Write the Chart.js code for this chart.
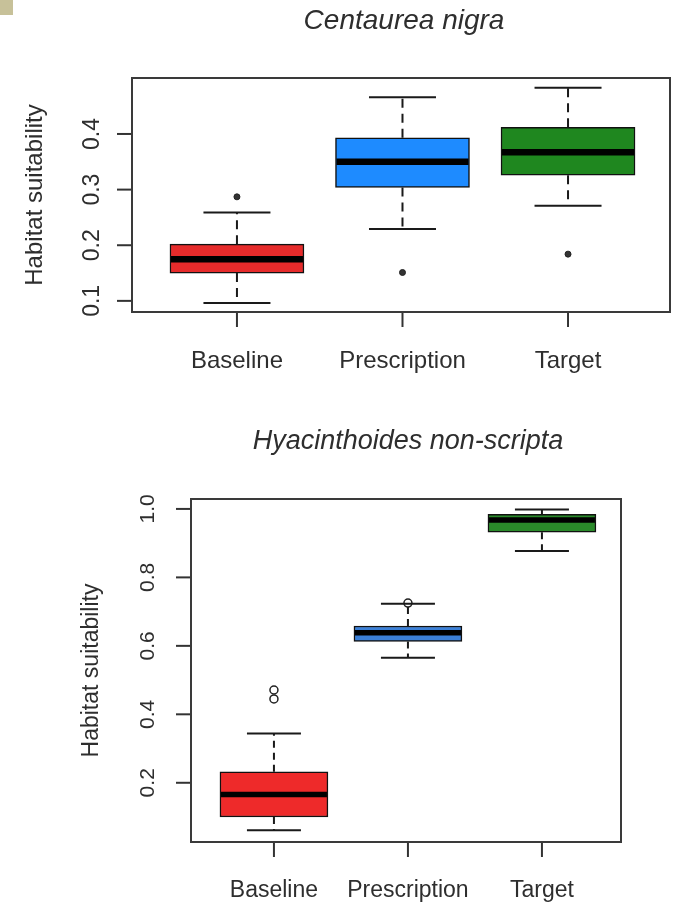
<!DOCTYPE html>
<html>
<head>
<meta charset="utf-8">
<script src="https://cdn.jsdelivr.net/npm/chart.js@4/dist/chart.umd.min.js"></script>
<style>
  body { margin: 0; background: #fff; }
  #wrap { position: relative; width: 677px; height: 902px; overflow: hidden; }
  canvas { position: absolute; left: 0; }
  #corner { position: absolute; left: 0; top: 0; width: 13px; height: 15px; background: #c7c199; }
</style>
</head>
<body>
<div id="wrap">
  <canvas id="chart1" width="677" height="420" style="top:0"></canvas>
  <canvas id="chart2" width="677" height="482" style="top:420px"></canvas>
  <div id="corner"></div>
</div>
<script>
// groups on the x axis
var groups = ['Baseline', 'Prescription', 'Target'];

// Centaurea nigra
var cnLower  = [0.096, 0.229, 0.271];
var cnQ1     = [0.150, 0.304, 0.326];
var cnMedian = [0.175, 0.350, 0.367];
var cnQ3     = [0.202, 0.393, 0.412];
var cnUpper  = [0.259, 0.466, 0.483];
var cnOutliers = [[0.287], [0.151], [0.184]];
var cnTicks = [0.1, 0.2, 0.3, 0.4];

// Hyacinthoides non-scripta
var hnLower  = [0.061, 0.565, 0.877];
var hnQ1     = [0.100, 0.613, 0.932];
var hnMedian = [0.166, 0.638, 0.968];
var hnQ3     = [0.232, 0.658, 0.984];
var hnUpper  = [0.344, 0.723, 0.998];
var hnOutliers = [[0.445, 0.471], [0.725], []];
var hnTicks = [0.2, 0.4, 0.6, 0.8, 1.0];

var FONT = '"Liberation Sans", Arial, sans-serif';
var INK = '#2e2e2e';

function boxPlugin(p) {
  return {
    id: 'boxParts',
    afterDatasetsDraw: function(chart) {
      var ctx = chart.ctx, xs = chart.scales.x, ys = chart.scales.y, a = chart.chartArea;
      var half = p.boxWidth / 2, cap = p.boxWidth / 4;
      ctx.save();
      for (var i = 0; i < groups.length; i++) {
        var x = xs.getPixelForValue(i + 1);
        // whiskers
        ctx.strokeStyle = '#1a1a1a';
        ctx.lineWidth = 2;
        ctx.setLineDash(p.dash);
        ctx.beginPath();
        ctx.moveTo(x, ys.getPixelForValue(p.q3[i]));
        ctx.lineTo(x, ys.getPixelForValue(p.upper[i]));
        ctx.moveTo(x, ys.getPixelForValue(p.q1[i]));
        ctx.lineTo(x, ys.getPixelForValue(p.lower[i]));
        ctx.stroke();
        ctx.setLineDash([]);
        // caps
        ctx.beginPath();
        ctx.moveTo(x - cap, ys.getPixelForValue(p.upper[i]));
        ctx.lineTo(x + cap, ys.getPixelForValue(p.upper[i]));
        ctx.moveTo(x - cap, ys.getPixelForValue(p.lower[i]));
        ctx.lineTo(x + cap, ys.getPixelForValue(p.lower[i]));
        ctx.stroke();
        // median
        ctx.lineWidth = p.medianWidth;
        ctx.strokeStyle = '#000';
        ctx.beginPath();
        ctx.moveTo(x - half + 1, ys.getPixelForValue(p.median[i]));
        ctx.lineTo(x + half - 1, ys.getPixelForValue(p.median[i]));
        ctx.stroke();
        // x tick + label
        ctx.lineWidth = 2;
        ctx.strokeStyle = '#333';
        ctx.beginPath();
        ctx.moveTo(x, a.bottom);
        ctx.lineTo(x, a.bottom + p.tickLen);
        ctx.stroke();
        ctx.fillStyle = INK;
        ctx.font = p.labelSize + 'px ' + FONT;
        ctx.textAlign = 'center';
        ctx.textBaseline = 'alphabetic';
        ctx.fillText(groups[i], x, p.labelY);
      }
      // y ticks + rotated labels
      ctx.strokeStyle = '#333';
      ctx.lineWidth = 2;
      ctx.font = p.tickSize + 'px ' + FONT;
      ctx.fillStyle = INK;
      p.ticks.forEach(function(v) {
        var y = ys.getPixelForValue(v);
        ctx.beginPath();
        ctx.moveTo(a.left - p.tickLen, y);
        ctx.lineTo(a.left, y);
        ctx.stroke();
        ctx.save();
        ctx.translate(p.tickX, y);
        ctx.rotate(-Math.PI / 2);
        ctx.textAlign = 'center';
        ctx.textBaseline = 'middle';
        ctx.fillText(v.toFixed(1), 0, 0);
        ctx.restore();
      });
      // frame
      ctx.strokeStyle = '#3a3a3a';
      ctx.lineWidth = 2;
      ctx.strokeRect(a.left, a.top, a.right - a.left, a.bottom - a.top);
      // axis title
      ctx.save();
      ctx.translate(p.axisTitleX, (a.top + a.bottom) / 2);
      ctx.rotate(-Math.PI / 2);
      ctx.font = p.labelSize + 'px ' + FONT;
      ctx.textAlign = 'center';
      ctx.textBaseline = 'middle';
      ctx.fillText('Habitat suitability', 0, 0);
      ctx.restore();
      // main title
      ctx.font = 'italic ' + p.titleSize + 'px ' + FONT;
      ctx.textAlign = 'center';
      ctx.textBaseline = 'middle';
      ctx.fillText(p.title, p.titleX, p.titleY);
      ctx.restore();
    }
  };
}

function makeChart(id, p) {
  var boxes = groups.map(function(g, i) { return { x: i + 1, y: [p.q1[i], p.q3[i]] }; });
  var points = [];
  p.outliers.forEach(function(vals, i) {
    vals.forEach(function(v) { points.push({ x: i + 1, y: v }); });
  });
  return new Chart(document.getElementById(id).getContext('2d'), {
    type: 'bar',
    data: {
      datasets: [{
        type: 'scatter',
        data: points,
        pointRadius: p.outR,
        pointBackgroundColor: p.outFill,
        pointBorderColor: '#222',
        pointBorderWidth: p.outBorder,
        order: 0
      }, {
        data: boxes,
        backgroundColor: p.colors,
        borderColor: '#111',
        borderWidth: 1.5,
        borderSkipped: false,
        barThickness: p.boxWidth,
        grouped: false,
        order: 1
      }]
    },
    options: {
      responsive: false,
      animation: false,
      devicePixelRatio: 1,
      layout: { padding: p.padding },
      plugins: { legend: { display: false }, tooltip: { enabled: false }, title: { display: false } },
      scales: {
        x: { type: 'linear', display: false, offset: false, min: p.xMin, max: p.xMax },
        y: { type: 'linear', display: false, min: p.yMin, max: p.yMax }
      }
    },
    plugins: [boxPlugin(p)]
  });
}

makeChart('chart1', {
  title: 'Centaurea nigra', titleX: 404, titleY: 21, titleSize: 28,
  lower: cnLower, q1: cnQ1, median: cnMedian, q3: cnQ3, upper: cnUpper,
  outliers: cnOutliers, ticks: cnTicks,
  colors: ['#e62b2b', '#1e8bff', '#1f871f'],
  outR: 3, outFill: '#333', outBorder: 1,
  boxWidth: 134, medianWidth: 6.5, dash: [9, 6],
  padding: { left: 132, top: 78, right: 7, bottom: 108 },
  xMin: 0.366, xMax: 3.616, yMin: 0.080, yMax: 0.5006,
  tickLen: 15, tickX: 93, tickSize: 23, labelSize: 24, labelY: 368, axisTitleX: 35
});

makeChart('chart2', {
  title: 'Hyacinthoides non-scripta', titleX: 408, titleY: 21, titleSize: 27,
  lower: hnLower, q1: hnQ1, median: hnMedian, q3: hnQ3, upper: hnUpper,
  outliers: hnOutliers, ticks: hnTicks,
  colors: ['#ee2a2a', '#3b80d8', '#2a8a2a'],
  outR: 4, outFill: 'rgba(255,255,255,0)', outBorder: 1.5,
  boxWidth: 108, medianWidth: 5.5, dash: [7, 5],
  padding: { left: 191, top: 79, right: 56, bottom: 60 },
  xMin: 0.381, xMax: 3.59, yMin: 0.027, yMax: 1.029,
  tickLen: 15, tickX: 148, tickSize: 21, labelSize: 23, labelY: 477, axisTitleX: 92
});
</script>
</body>
</html>
